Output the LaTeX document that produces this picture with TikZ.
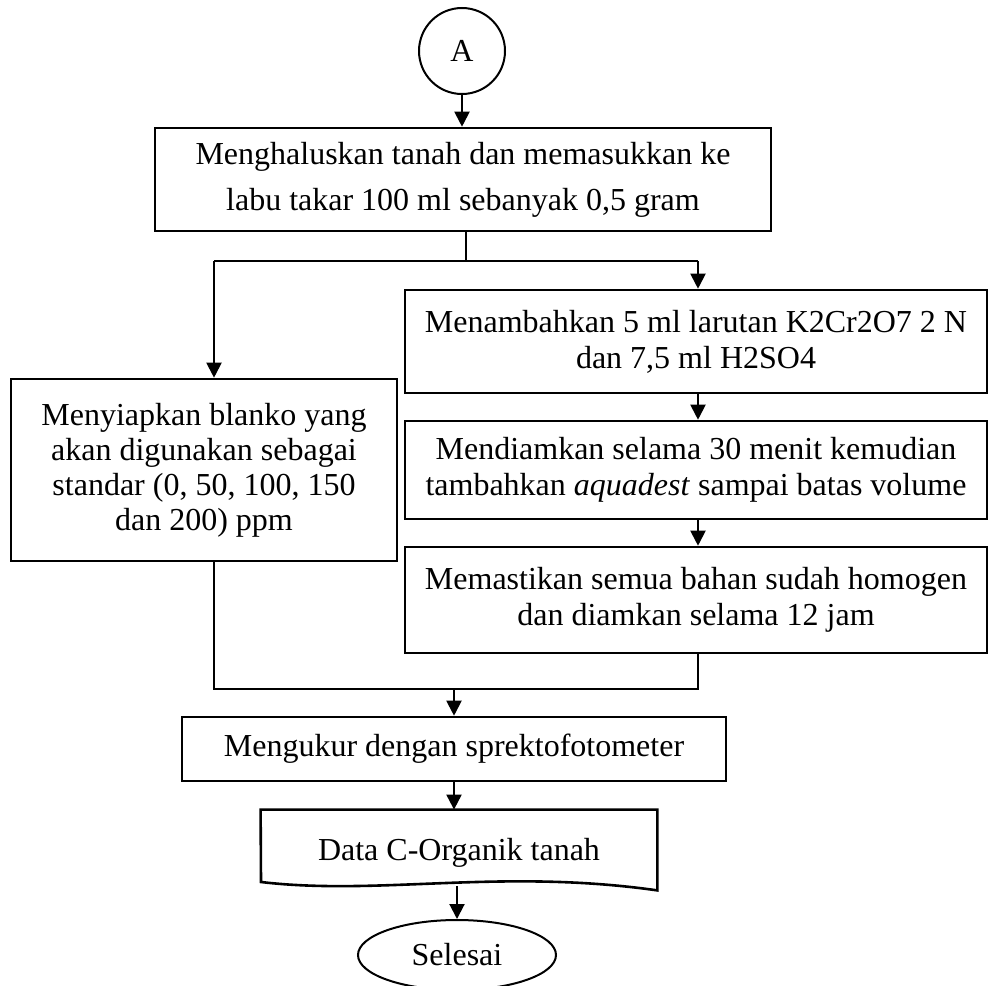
\documentclass[tikz,border=0pt]{standalone}
\usepackage{fontspec}
\setmainfont{Liberation Serif}
\usetikzlibrary{arrows.meta,shapes.geometric}
\begin{document}
\begin{tikzpicture}[x=0.5pt,y=-0.5pt,
  box/.style={draw,line width=1.3pt,rectangle,align=center,inner sep=0pt,
    font=\fontsize{16pt}{18pt}\selectfont},
  flow/.style={line width=1pt,-{Triangle[length=7.5pt,width=7.5pt]}},
  link/.style={line width=1pt}]
\useasboundingbox (0,0) rectangle (990,985);

% start connector and process steps
\node[draw,line width=1pt,circle,minimum size=43pt,inner sep=0pt,
  font=\fontsize{16pt}{18pt}\selectfont] (A) at (462,51) {A};
\node[box,minimum width=308pt,minimum height=51.5pt,
  font=\fontsize{16pt}{23pt}\selectfont] (b1) at (463,179.5)
  {Menghaluskan tanah dan memasukkan ke\\labu takar 100 ml sebanyak 0,5 gram};
\node[box,minimum width=193pt,minimum height=91pt,
  font=\fontsize{16pt}{17.5pt}\selectfont] (left) at (204,470)
  {Menyiapkan blanko yang\\akan digunakan sebagai\\standar (0, 50, 100, 150\\dan 200) ppm};
\node[box,minimum width=291pt,minimum height=51.5pt] (b2) at (696,341.5)
  {Menambahkan 5 ml larutan K2Cr2O7 2 N\\dan 7,5 ml H2SO4};
\node[box,minimum width=291pt,minimum height=49pt] (b3) at (696,470)
  {Mendiamkan selama 30 menit kemudian\\tambahkan \textit{aquadest} sampai batas volume};
\node[box,minimum width=291pt,minimum height=53pt] (b4) at (696,600)
  {Memastikan semua bahan sudah homogen\\dan diamkan selama 12 jam};
\node[box,minimum width=272pt,minimum height=32pt] (b5) at (454,749)
  {Mengukur dengan sprektofotometer};

% document symbol with wavy lower edge
\node[minimum width=198pt,minimum height=36pt,inner sep=0pt] (doc) at (459,846) {};
\draw[line width=1.3pt] (doc.north west) -- (doc.north east) -- ([yshift=-4pt]doc.south east)
  .. controls (500,868) and (380,896) .. (261,882) -- cycle;
\node[anchor=base,font=\fontsize{16pt}{18pt}\selectfont] (doctext) at (459,860) {Data C-Organik tanah};
\coordinate (docbot) at (459,886);

% terminator
\node[draw,line width=1pt,ellipse,minimum width=99pt,minimum height=35pt,inner sep=0pt,
  font=\fontsize{16pt}{18pt}\selectfont] (end) at (457,955) {Selesai};

% branching and merging points
\coordinate (split) at (466,261);
\coordinate (jL) at (214,261);
\coordinate (jR) at (698,261);
\coordinate (mL) at (214,689);
\coordinate (mR) at (698,689);
\coordinate (mC) at (454,689);

% connectors
\draw[flow] (A) -- (A |- b1.north);
\draw[link] (b1.south -| split) -- (split);
\draw[link] (jL) -- (jR);
\draw[flow] (jL) -- (jL |- left.north);
\draw[flow] (jR) -- (jR |- b2.north);
\draw[flow] (b2.south -| jR) -- (b3.north -| jR);
\draw[flow] (b3.south -| jR) -- (b4.north -| jR);
\draw[link] (left.south -| mL) -- (mL) -- (mR) -- (b4.south -| mR);
\draw[flow] (mC) -- (b5.north);
\draw[flow] (b5.south) -- (b5.south |- doc.north);
\draw[flow] (end.north |- docbot) -- (end.north);
\end{tikzpicture}
\end{document}
